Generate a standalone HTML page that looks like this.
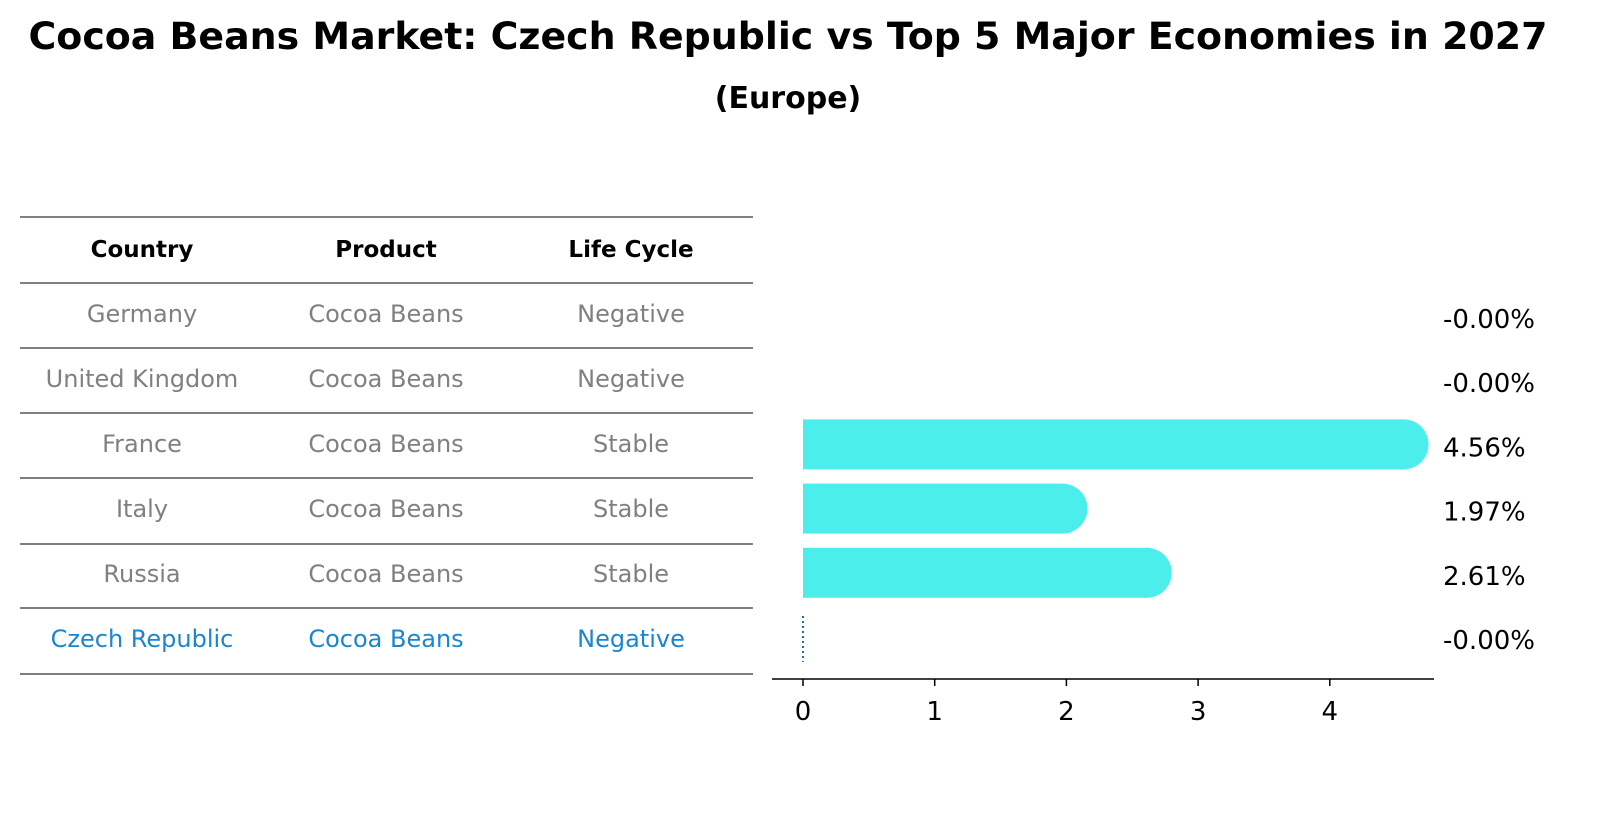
<!DOCTYPE html>
<html><head><meta charset="utf-8"><style>
body{margin:0;background:#fff;font-family:"DejaVu Sans","Liberation Sans",sans-serif;}
</style></head><body>
<svg width="1606" height="823" xmlns="http://www.w3.org/2000/svg" style="font-family:'DejaVu Sans','Liberation Sans',sans-serif">
<text x="788" y="49" text-anchor="middle" font-size="37" font-weight="bold" textLength="1519" lengthAdjust="spacingAndGlyphs">Cocoa Beans Market: Czech Republic vs Top 5 Major Economies in 2027</text>
<text x="788" y="108" text-anchor="middle" font-size="30" font-weight="bold">(Europe)</text>
<g id="table"></g>
<g id="plot"></g>
</svg>
<script>
const countries=["Germany","United Kingdom","France","Italy","Russia","Czech Republic"];
const products=["Cocoa Beans","Cocoa Beans","Cocoa Beans","Cocoa Beans","Cocoa Beans","Cocoa Beans"];
const lifeCycles=["Negative","Negative","Stable","Stable","Stable","Negative"];
const values=[-0.0,-0.0,4.56,1.97,2.61,-0.0];
const xTicks=[0,1,2,3,4];
const NS="http://www.w3.org/2000/svg";
function mk(tag,attrs,parent){const e=document.createElementNS(NS,tag);for(const k in attrs)e.setAttribute(k,attrs[k]);parent.appendChild(e);return e;}
const table=document.getElementById('table');
const lineYs=[217,283,348,413,478,544,608,674];
lineYs.forEach((y,i)=>{const l=mk('line',{x1:20,x2:753,y1:y,y2:y,stroke:'#000','stroke-width':1},table);

});
const colX=[142,386,631];
["Country","Product","Life Cycle"].forEach((h,i)=>{const t=mk('text',{x:colX[i],y:257,'text-anchor':'middle','font-size':23,'font-weight':'bold'},table);t.textContent=h;

});
countries.forEach((c,r)=>{const y=322+65*r;const col=r===countries.length-1?'#1a86d0':'#808080';
[c,products[r],lifeCycles[r]].forEach((v,i)=>{const t=mk('text',{x:colX[i],y:y,'text-anchor':'middle','font-size':24,fill:col},table);t.textContent=v;

});});
const plot=document.getElementById('plot');
const x0=803,scale=131.7;const xs=v=>x0+v*scale;
const rowY=i=>316+64.2*i;
const bh=50;
values.forEach((v,i)=>{const cy=rowY(i);
if(Math.abs(v)<1e-9){if(i===values.length-1){const l=mk('line',{x1:xs(0),x2:xs(0),y1:cy-bh/2+4,y2:cy+bh/2,stroke:'#1a6fc0','stroke-width':2,'stroke-dasharray':'2,3'},plot);

}}
else{const g=mk('g',{},plot);


mk('rect',{x:xs(0),y:cy-bh/2,width:xs(v)-xs(0),height:bh,fill:'#4beeeb'},g);
mk('circle',{cx:xs(v),cy:cy,r:bh/2,fill:'#4beeeb'},g);}
const t=mk('text',{x:1443,y:cy+12,'font-size':26},plot);t.textContent=(v<=0?'-':'')+Math.abs(v).toFixed(2)+'%';

});
const ax=mk('line',{x1:772,x2:1434,y1:679,y2:679,stroke:'#000','stroke-width':1.5},plot);


xTicks.forEach(v=>{const tk=mk('line',{x1:xs(v),x2:xs(v),y1:679,y2:686,stroke:'#000','stroke-width':1.5},plot);


const t=mk('text',{x:xs(v),y:720,'text-anchor':'middle','font-size':26},plot);t.textContent=v;

});
</script>
</body></html>
